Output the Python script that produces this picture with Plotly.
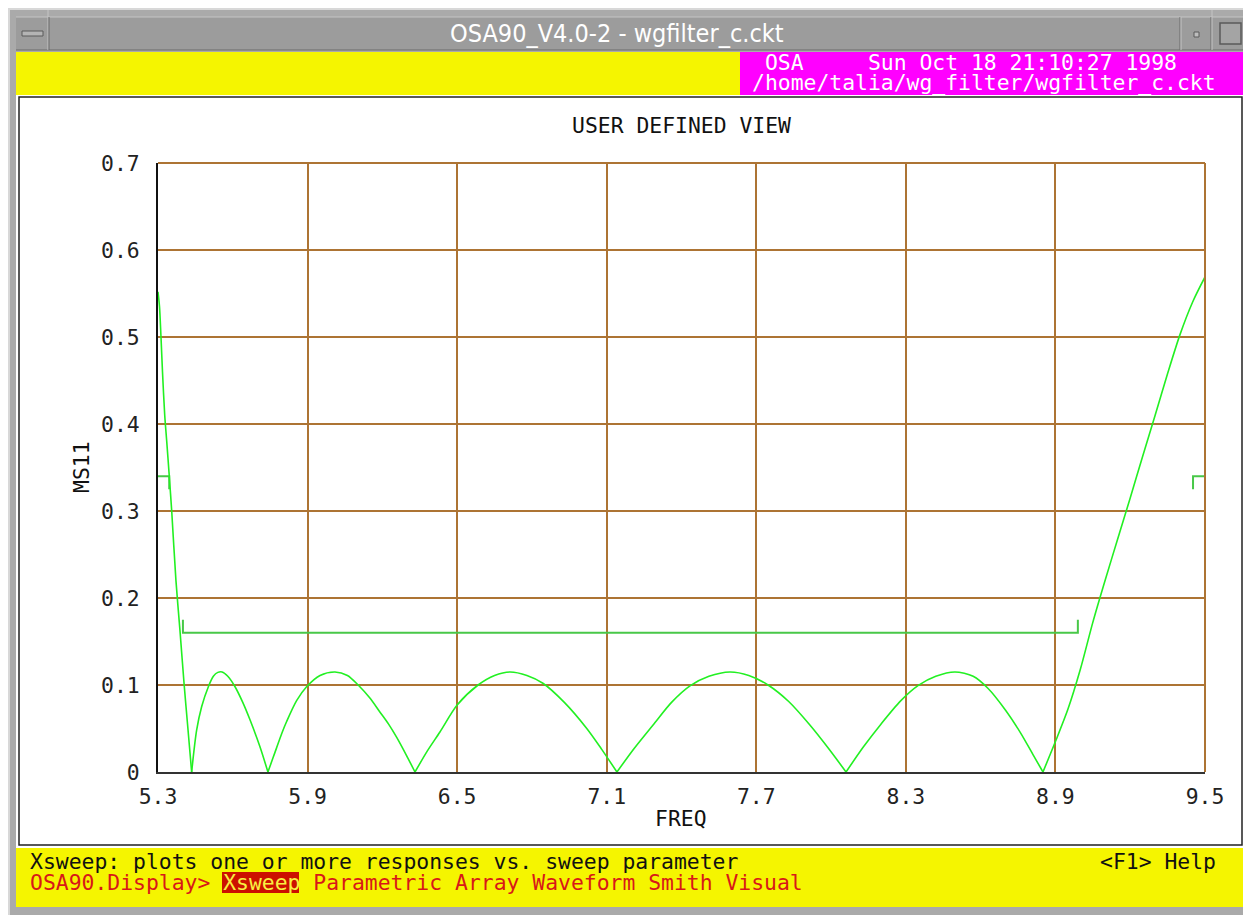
import plotly.graph_objects as go

# ---------------- data ----------------
freq = [5.300, 5.306, 5.312, 5.318, 5.327, 5.335, 5.344, 5.355, 5.372, 5.388, 5.405, 5.420, 5.435,
        5.455, 5.475, 5.502, 5.522, 5.540, 5.557, 5.580, 5.609, 5.640, 5.669, 5.709, 5.741,
        5.761, 5.776, 5.796, 5.816, 5.856, 5.896, 5.950, 6.010, 6.060, 6.103, 6.150, 6.190,
        6.225, 6.257, 6.295, 6.331,
        6.380, 6.431, 6.500, 6.584, 6.650, 6.712, 6.780, 6.844, 6.930, 7.020, 7.080, 7.141,
        7.210, 7.286, 7.360, 7.434, 7.510, 7.594, 7.670, 7.747, 7.830, 7.915, 7.990, 8.060,
        8.130, 8.200, 8.280, 8.350, 8.420, 8.497, 8.570, 8.630, 8.700, 8.760, 8.810, 8.850,
        8.900, 8.950, 9.000, 9.050, 9.100, 9.150, 9.200, 9.250, 9.300, 9.350, 9.400, 9.450, 9.500]
ms11 = [0.552, 0.535, 0.500, 0.460, 0.410, 0.380, 0.345, 0.300, 0.220, 0.163, 0.100, 0.050, 0.000,
        0.048, 0.075, 0.098, 0.110, 0.1145, 0.115, 0.110, 0.098, 0.080, 0.060, 0.029, 0.000,
        0.016, 0.028, 0.044, 0.058, 0.082, 0.098, 0.111, 0.115, 0.111, 0.100, 0.085, 0.069,
        0.055, 0.040, 0.020, 0.000,
        0.024, 0.046, 0.077, 0.100, 0.111, 0.115, 0.111, 0.102, 0.080, 0.050, 0.026, 0.000,
        0.027, 0.054, 0.080, 0.099, 0.110, 0.115, 0.111, 0.100, 0.081, 0.054, 0.027, 0.000,
        0.029, 0.055, 0.082, 0.0995, 0.110, 0.115, 0.110, 0.096, 0.071, 0.045, 0.020, 0.000,
        0.035, 0.072, 0.118, 0.172, 0.221, 0.268, 0.315, 0.363, 0.410, 0.458, 0.503, 0.540, 0.569]

# specification markers
pass_x = [5.40, 5.40, 8.99, 8.99]
pass_y = [0.175, 0.16, 0.16, 0.175]
stopL_x = [5.30, 5.345, 5.345]
stopL_y = [0.34, 0.34, 0.325]
stopR_x = [9.50, 9.452, 9.452]
stopR_y = [0.34, 0.34, 0.325]

x_ticks = [5.3, 5.9, 6.5, 7.1, 7.7, 8.3, 8.9, 9.5]
x_ticktext = ["5.3", "5.9", "6.5", "7.1", "7.7", "8.3", "8.9", "9.5"]
y_ticks = [0, 0.1, 0.2, 0.3, 0.4, 0.5, 0.6, 0.7]
y_ticktext = ["0", "0.1", "0.2", "0.3", "0.4", "0.5", "0.6", "0.7"]

# ---------------- geometry (screen pixels; page body has an 8px margin) ----------------
OFF = 8
W, H = 1251 - OFF, 915 - OFF
L, R, T, B = 158, 1205, 163, 772
PW, PH = R - L, B - T

def px(x):
    return (x - L) / PW

def py(y):
    return (B - y) / PH

MONO = "DejaVu Sans Mono, Liberation Mono, monospace"
GRID = "#AD7434"
YEL = "#F5F500"
FS = 21.4

fig = go.Figure()
for sx, sy in [(pass_x, pass_y), (stopL_x, stopL_y), (stopR_x, stopR_y)]:
    fig.add_trace(go.Scatter(x=sx, y=sy, mode="lines",
                             line=dict(color="#48C848", width=2), hoverinfo="skip"))

# response curve: smooth each lobe between the nulls, keep the nulls sharp
cuts = [0] + [i for i, v in enumerate(ms11) if v == 0] + [len(ms11) - 1]
for a, b in zip(cuts[:-1], cuts[1:]):
    if b <= a:
        continue
    fig.add_trace(go.Scatter(x=freq[a:b + 1], y=ms11[a:b + 1], mode="lines",
                             line=dict(color="#22F022", width=1.6, shape="spline", smoothing=0.8),
                             hoverinfo="skip"))

shapes = []

def rect(x0, y0, x1, y1, fill, line=None, lw=0, layer="below"):
    shapes.append(dict(type="rect", xref="paper", yref="paper",
                       x0=px(x0), x1=px(x1), y0=py(y1), y1=py(y0),
                       fillcolor=fill, layer=layer,
                       line=dict(color=line or fill, width=lw)))

def hline(x0, x1, y, color, w=1, layer="below"):
    shapes.append(dict(type="line", xref="paper", yref="paper",
                       x0=px(x0), x1=px(x1), y0=py(y), y1=py(y),
                       line=dict(color=color, width=w), layer=layer))

def vline(x, y0, y1, color, w=1, layer="below"):
    shapes.append(dict(type="line", xref="paper", yref="paper",
                       x0=px(x), x1=px(x), y0=py(y0), y1=py(y1),
                       line=dict(color=color, width=w), layer=layer))

# window frame
rect(8, 8, 1251, 915, "#AAAAAA")
vline(9, 8, 915, "#D8D8D8", 2)
hline(8, 1251, 9, "#D8D8D8", 2)
# title bar
rect(16, 17, 1246, 50, "#9C9C9C")
hline(16, 1246, 17, "#C4C4C4", 1)
hline(16, 1246, 50, "#6A6A6A", 1)
vline(48, 10, 50, "#C4C4C4", 1)
vline(49, 17, 50, "#6A6A6A", 1)
vline(1180, 17, 50, "#6A6A6A", 1)
vline(1181, 17, 50, "#C4C4C4", 1)
vline(1211, 17, 50, "#6A6A6A", 1)
vline(1212, 10, 50, "#C4C4C4", 1)
rect(22, 31, 43, 36, "#B4B4B4", "#5A5A5A", 1)
rect(1194, 32, 1199, 37, "#BDBDBD", "#5A5A5A", 1)
rect(1220, 23, 1241, 44, "#A4A4A4", "#5A5A5A", 1.5)
# header strips
rect(16, 52, 740, 95, YEL)
rect(740, 52, 1247, 95, "#FF00FF")
# white panel
rect(16, 95, 1247, 848, "#FFFFFF")
rect(19, 97, 1242, 845, "#FFFFFF", "#222222", 1.5)
# bottom strip
rect(16, 848, 1247, 907, YEL)
rect(222, 872, 299, 893, "#CC1100")
# top / right plot borders (brown)
hline(L, R, T, GRID, 2, layer="above")
vline(R, T, B, GRID, 2, layer="above")

ann = []

def text(x, y, s, color, size=FS, font=MONO, xanchor="left", angle=0):
    ann.append(dict(x=px(x), y=py(y), xref="paper", yref="paper", text=s,
                    showarrow=False, xanchor=xanchor, yanchor="middle",
                    textangle=angle, font=dict(family=font, size=size, color=color)))

text(617, 34, "OSA90_V4.0-2 - wgfilter_c.ckt", "#FFFFFF", 25,
     "DejaVu Sans Condensed, Liberation Sans Narrow, sans-serif", "center")
text(750, 62, " OSA     Sun Oct 18 21:10:27 1998", "#FFFFFF")
text(750, 82, "/home/talia/wg_filter/wgfilter_c.ckt", "#FFFFFF")
text(681, 126, "USER DEFINED VIEW", "#111111", xanchor="center")
text(681, 818, "FREQ", "#111111", xanchor="center")
text(82, 467, "MS11", "#111111", xanchor="center", angle=-90)
text(28, 861, "Xsweep: plots one or more responses vs. sweep parameter", "#111111")
text(1098, 861, "&lt;F1&gt; Help", "#111111")
text(28, 882, "OSA90.Display&gt; <span style='color:#F8F040'>Xsweep</span> "
     "Parametric Array Waveform Smith Visual", "#D81818")

fig.update_layout(
    width=W, height=H,
    margin=dict(l=L - OFF, r=W - (R - OFF), t=T - OFF, b=H - (B - OFF), pad=0),
    paper_bgcolor="#FFFFFF", plot_bgcolor="#FFFFFF",
    showlegend=False, shapes=shapes, annotations=ann,
    xaxis=dict(range=[5.3, 9.5], tickvals=x_ticks, ticktext=x_ticktext,
               showgrid=True, gridcolor=GRID, gridwidth=2,
               showline=True, linecolor="#333333", linewidth=2,
               zeroline=False, ticks="", ticklabelstandoff=4,
               tickfont=dict(family=MONO, size=FS, color="#222222"), fixedrange=True),
    yaxis=dict(range=[0, 0.7], tickvals=y_ticks, ticktext=y_ticktext,
               showgrid=True, gridcolor=GRID, gridwidth=2,
               showline=True, linecolor="#111111", linewidth=2,
               zeroline=False, ticks="", ticklabelstandoff=12,
               tickfont=dict(family=MONO, size=FS, color="#222222"), fixedrange=True),
)

fig.write_html("out.html", config={"displayModeBar": False})
